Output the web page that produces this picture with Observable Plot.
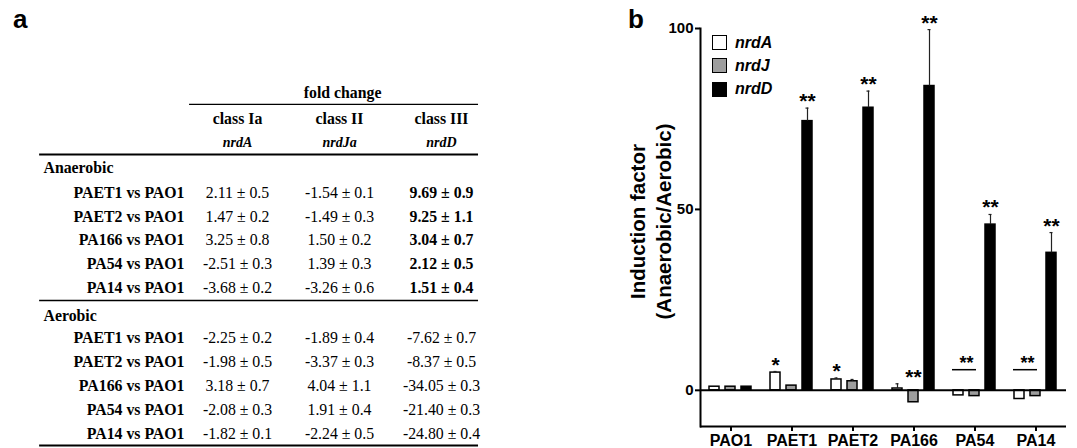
<!DOCTYPE html>
<html><head><meta charset="utf-8">
<script src="https://cdn.jsdelivr.net/npm/d3@7"></script>
<script src="https://cdn.jsdelivr.net/npm/@observablehq/plot@0.6"></script>
<style>
body{margin:0;background:#fff}
#fig{position:relative;width:1077px;height:448px;overflow:hidden;background:#fff}
.panel{position:absolute;top:6px;font:bold 26px "Liberation Sans",Arial,sans-serif;line-height:26px;color:#000}
#tbl,#chart{position:absolute;top:0}
#tbl{left:0}
#chart{left:620px}
#legend{position:absolute;left:712px;top:31px;font:italic bold 16px "Liberation Sans",Arial,sans-serif;color:#000}
.lr{display:flex;align-items:center;height:23.25px}
.sw{width:15px;height:15px;box-sizing:border-box;border:1.5px solid #000;margin-right:8px}
#chart g[aria-label^="fx-axis"] * {stroke-width:2px}
#chart g[aria-label="fx-axis tick label"], #chart g[aria-label="fx-axis tick label"] text {font-size:16px}
</style></head><body>
<div id="fig">
  <div id="tbl"></div>
  <div id="chart"></div>
  <div class="panel" style="left:13px">a</div>
  <div class="panel" style="left:628px">b</div>
  <div id="legend"></div>
</div>
<script>
// ---------- Panel a data ----------
const foldHeader = "fold change";
const classes = ["class Ia", "class II", "class III"];
const geneCols = ["nrdA", "nrdJa", "nrdD"];
const conditions = ["Anaerobic", "Aerobic"];
const comparisons = ["PAET1 vs PAO1", "PAET2 vs PAO1", "PA166 vs PAO1", "PA54 vs PAO1", "PA14 vs PAO1"];
const anaerobicMean = [[2.11, 1.47, 3.25, -2.51, -3.68], [-1.54, -1.49, 1.50, 1.39, -3.26], [9.69, 9.25, 3.04, 2.12, 1.51]];
const anaerobicSD   = [[0.5, 0.2, 0.8, 0.3, 0.2], [0.1, 0.3, 0.2, 0.3, 0.6], [0.9, 1.1, 0.7, 0.5, 0.4]];
const aerobicMean   = [[-2.25, -1.98, 3.18, -2.08, -1.82], [-1.89, -3.37, 4.04, 1.91, -2.24], [-7.62, -8.37, -34.05, -21.40, -24.80]];
const aerobicSD     = [[0.2, 0.5, 0.7, 0.3, 0.1], [0.4, 0.3, 1.1, 0.4, 0.5], [0.7, 0.5, 0.3, 0.3, 0.4]];

// ---------- Panel b data ----------
const strains = ["PAO1", "PAET1", "PAET2", "PA166", "PA54", "PA14"];
const genes = ["nrdA", "nrdJ", "nrdD"];
const nrdA = [1.0, 4.9, 3.0, 0.5, -1.4, -2.4];
const nrdAErr = [0, 0.3, 0.4, 1.3, 0, 0];
const nrdJ = [1.0, 1.3, 2.5, -3.3, -1.6, -1.6];
const nrdJErr = [0, 0, 0.5, 0, 0, 0];
const nrdD = [1.0, 74.4, 78.1, 84.1, 45.8, 38.0];
const nrdDErr = [0, 3.6, 4.6, 15.6, 2.8, 5.6];
const stars = [
  {strain: "PAET1", gene: "nrdA", label: "*"},
  {strain: "PAET1", gene: "nrdD", label: "**"},
  {strain: "PAET2", gene: "nrdA", label: "*"},
  {strain: "PAET2", gene: "nrdD", label: "**"},
  {strain: "PA166", gene: "nrdJ", label: "**"},
  {strain: "PA166", gene: "nrdD", label: "**"},
  {strain: "PA54", gene: "nrdD", label: "**"},
  {strain: "PA14", gene: "nrdD", label: "**"}
];
const brackets = [
  {strain: "PA54", from: "nrdA", to: "nrdJ", level: 5.7, label: "**"},
  {strain: "PA14", from: "nrdA", to: "nrdJ", level: 5.7, label: "**"}
];
const yTicks = [0, 50, 100];
const yLabel = "Induction factor\n(Anaerobic/Aerobic)";
const geneFills = ["#ffffff", "#9e9e9e", "#000000"];

// ---------- Panel a: table ----------
const ROW = 23.85, TOP = 92, LASTSLOT = 14.3;
const headSlots = [3.2, 9.35];
const firstRowGap = [1.0, 0.95];
const cells = [];
conditions.forEach((c, k) => {
  const means = k === 0 ? anaerobicMean : aerobicMean;
  const sds = k === 0 ? anaerobicSD : aerobicSD;
  comparisons.forEach((cmp, j) => {
    const slot = headSlots[k] + firstRowGap[k] + j;
    cells.push({kind: "label", col: -0.52, slot, text: cmp});
    for (let g = 0; g < 3; g++) {
      const m = means[g][j], s = sds[g][j];
      cells.push({kind: (k === 0 && g === 2) ? "bold" : "value", col: g, slot,
        text: m.toFixed(2) + " \u00b1 " + s.toFixed(1)});
    }
  });
});
const tableRules = [
  {slot: 0.5, from: -0.47, to: 2.363, w: 1.2},
  {slot: 2.6, from: -1.94, to: 2.363, w: 2},
  {slot: 8.72, from: -1.94, to: 2.363, w: 1.6},
  {slot: 14.8, from: -1.94, to: 2.363, w: 2}
];
const table = Plot.plot({
  width: 620, height: 448,
  marginLeft: 237, marginRight: 179, marginTop: TOP, marginBottom: 448 - TOP - LASTSLOT * ROW,
  x: {domain: [0, 2], axis: null},
  y: {domain: [0, LASTSLOT], reverse: true, axis: null},
  style: {fontFamily: "Liberation Serif", fontSize: "15.8px", color: "#000", background: "transparent", overflow: "visible"},
  marks: [
    Plot.ruleY(tableRules, {y: "slot", x1: "from", x2: "to", strokeWidth: "w", stroke: "#000"}),
    Plot.text([foldHeader], {x: () => 1.03, y: () => 0, text: d => d, fontWeight: "bold"}),
    Plot.text(classes, {x: (d, i) => i, y: () => 1.1, text: d => d, fontWeight: "bold"}),
    Plot.text(geneCols, {x: (d, i) => i, y: () => 2.1, text: d => d, fontWeight: "bold", fontStyle: "italic", fontSize: 14}),
    Plot.text(conditions, {x: () => -1.902, y: (d, i) => headSlots[i] - (i === 0 ? 0.05 : 0), text: d => d, fontWeight: "bold", textAnchor: "start"}),
    Plot.text(cells.filter(d => d.kind === "label"), {x: "col", y: "slot", text: "text", fontWeight: "bold", textAnchor: "end"}),
    Plot.text(cells.filter(d => d.kind === "value"), {x: "col", y: "slot", text: "text"}),
    Plot.text(cells.filter(d => d.kind === "bold"), {x: "col", y: "slot", text: "text", fontWeight: "bold"})
  ]
});
document.getElementById("tbl").append(table);

// ---------- Panel b: bar chart ----------
const series = {nrdA, nrdJ, nrdD};
const errs = {nrdA: nrdAErr, nrdJ: nrdJErr, nrdD: nrdDErr};
const bars = [];
strains.forEach((s, i) => genes.forEach(g => bars.push({strain: s, gene: g, value: series[g][i], err: errs[g][i]})));
const withErr = bars.filter(d => d.err > 0);
const topOf = (s, g) => {
  const b = bars.find(d => d.strain === s && d.gene === g);
  if (b.value >= 0) return b.value + b.err;
  // negative bars: label sits above the neighbouring small bars of the group
  return Math.max(0, ...bars.filter(d => d.strain === s && d.gene !== "nrdD").map(d => d.value + d.err));
};

const chart = Plot.plot({
  width: 457, height: 448,
  marginLeft: 79, marginRight: 10, marginTop: 28, marginBottom: 22,
  style: {fontFamily: "Liberation Sans", fontWeight: "bold", fontSize: "15px", color: "#000", background: "transparent", overflow: "visible"},
  fx: {domain: strains, padding: 0, label: null, axis: "bottom", tickSize: 5, tickPadding: 3},
  x: {domain: genes, paddingInner: 0.35, paddingOuter: 0.5, axis: null},
  y: {domain: [-10, 100]},
  color: {domain: genes, range: geneFills},
  marks: [
    Plot.frame({anchor: "left", facetAnchor: "left", stroke: "#000", strokeWidth: 2}),
    Plot.axisY({ticks: yTicks, tickSize: 5, tickPadding: 2, label: null, fontSize: 15, fontWeight: "bold", strokeWidth: 2}),
    Plot.ruleY([-10], {stroke: "#000", strokeWidth: 2}),
    Plot.barY(bars, {fx: "strain", x: "gene", y: "value", fill: "gene", stroke: "#000", strokeWidth: 1.5}),
    Plot.ruleY([0], {stroke: "#000", strokeWidth: 2}),
    Plot.ruleX(withErr, {fx: "strain", x: "gene", y1: "value", y2: d => d.value + d.err, stroke: "#222", strokeWidth: 1.2}),
    Plot.tickY(withErr, {fx: "strain", x: "gene", y: d => d.value + d.err, stroke: "#222", strokeWidth: 1.2, insetLeft: 3.5, insetRight: 3.5}),
    Plot.text(stars, {fx: "strain", x: "gene", y: d => topOf(d.strain, d.gene), text: "label", lineAnchor: "bottom", dy: 0, fontSize: 21, fontWeight: "bold"}),
    Plot.ruleY(brackets, {fx: "strain", x1: "from", x2: "to", y: "level", stroke: "#000", strokeWidth: 1.5, insetLeft: -1, insetRight: 3}),
    Plot.text(brackets, {fx: "strain", x: "from", y: "level", text: "label", dx: 8, dy: -1, lineAnchor: "bottom", fontSize: 18, fontWeight: "bold"}),
    Plot.text([yLabel], {fx: () => strains[0], text: d => d, frameAnchor: "left", textAnchor: "middle", rotate: -90, dx: -51, dy: -6, fontSize: 20.5, fontWeight: "bold", lineHeight: 1.27, lineAnchor: "middle"})
  ]
});
document.getElementById("chart").append(chart);

// legend
const legend = document.getElementById("legend");
genes.forEach((g, i) => {
  const row = document.createElement("div"); row.className = "lr";
  const sw = document.createElement("div"); sw.className = "sw"; sw.style.background = chart.scale("color").apply(g);
  const t = document.createElement("span"); t.textContent = g;
  row.append(sw, t); legend.append(row);
});
</script>
</body></html>
